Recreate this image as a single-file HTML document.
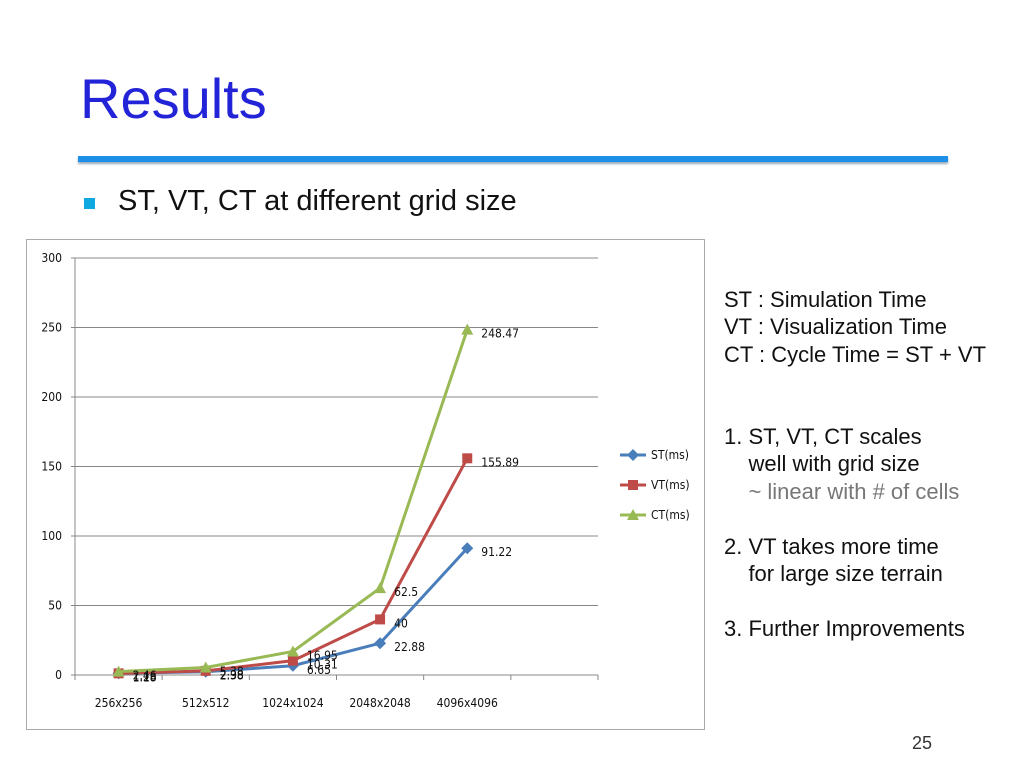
<!DOCTYPE html>
<html><head><meta charset="utf-8"><style>
body{margin:0;width:1024px;height:768px;background:#fff;font-family:"Liberation Sans",sans-serif;position:relative;overflow:hidden}
.abs{position:absolute}
</style></head><body>
<div class="abs" style="left:80px;top:66px;font-size:56px;color:#2323d8">Results</div>
<div class="abs" style="left:78px;top:156px;width:870px;height:6px;background:#1e90e8;box-shadow:0 2px 2px #9ab"></div>
<div class="abs" style="left:84px;top:198px;width:11px;height:11px;background:#10a8e0"></div>
<div class="abs" style="left:118px;top:185px;font-size:29px;color:#111">ST, VT, CT at different grid size</div>
<div class="abs" style="left:724px;top:286px;font-size:22px;line-height:27.4px;color:#111">
ST : Simulation Time<br>VT : Visualization Time<br>CT : Cycle Time = ST + VT<br><br><br>
1. ST, VT, CT scales<br>&nbsp;&nbsp;&nbsp;&nbsp;well with grid size<br><span style="color:#777">&nbsp;&nbsp;&nbsp;&nbsp;~ linear with # of cells</span><br><br>
2. VT takes more time<br>&nbsp;&nbsp;&nbsp;&nbsp;for large size terrain<br><br>3. Further Improvements</div>
<div class="abs" style="left:912px;top:733px;font-size:18px;color:#333">25</div>
<svg class="abs" style="left:0;top:0" width="1024" height="768">
<rect x="26.5" y="239.5" width="678" height="490" fill="#fff" stroke="#aaa"/>
<g id="g"></g>
</svg>
<script>
const categories=["256x256","512x512","1024x1024","2048x2048","4096x4096"];
const stValues=[1.28,2.38,6.65,22.88,91.22];
const vtValues=[1.18,2.98,10.31,40,155.89];
const ctValues=[2.46,5.38,16.95,62.5,248.47];
const yTicks=[0,50,100,150,200,250,300];
const g=document.getElementById('g');const NS='http://www.w3.org/2000/svg';
const X0=75,X1=598,Y0=675,Y1=258,slots=6;
const FF='DejaVu Sans Condensed, Liberation Sans, sans-serif';
const sx=i=>X0+(X1-X0)/slots*(i+0.5);
const sy=v=>Y0-(v/300)*(Y0-Y1);
function mk(t,a){const e=document.createElementNS(NS,t);for(const k in a)e.setAttribute(k,a[k]);g.appendChild(e);return e;}
yTicks.forEach(t=>{
const l=mk('line',{x1:X0-4,x2:X1,y1:sy(t),y2:sy(t),stroke:'#888','stroke-width':1});


const tx=mk('text',{x:62,y:sy(t)+4,'font-size':12,'text-anchor':'end',fill:'#111','font-family':FF});tx.textContent=t;


});
const ax=mk('line',{x1:X0,x2:X0,y1:Y1,y2:Y0+4,stroke:'#888'});


for(let i=0;i<=slots;i++){const t=mk('line',{x1:X0+(X1-X0)/slots*i,x2:X0+(X1-X0)/slots*i,y1:Y0,y2:Y0+5,stroke:'#888'});

}
categories.forEach((c,i)=>{const t=mk('text',{x:sx(i),y:707,'font-size':12,'text-anchor':'middle',fill:'#111','font-family':FF});t.textContent=c;

});
const series=[['ST',stValues,'#4a7ebb','d'],['VT',vtValues,'#be4b48','s'],['CT',ctValues,'#98b954','t']];
function marker(x,y,col,k,name){let e;
if(k==='d')e=mk('polygon',{points:`${x},${y-6} ${x+6},${y} ${x},${y+6} ${x-6},${y}`,fill:col});
else if(k==='s')e=mk('rect',{x:x-5,y:y-5,width:10,height:10,fill:col});
else e=mk('polygon',{points:`${x},${y-6} ${x+6},${y+5} ${x-6},${y+5}`,fill:col});

}
series.forEach(([n,vals,col,k])=>{
const p=mk('polyline',{points:vals.map((v,i)=>sx(i)+','+sy(v)).join(' '),fill:'none',stroke:col,'stroke-width':3});


vals.forEach((v,i)=>{marker(sx(i),sy(v),col,k,n.toLowerCase()+'-point');
const t=mk('text',{x:sx(i)+14,y:sy(v)+8,'font-size':12,fill:'#111','font-family':FF});t.textContent=v;

});
});
series.forEach(([n,vals,col,k],j)=>{const y=455+j*30;
const l=mk('line',{x1:620,x2:646,y1:y,y2:y,stroke:col,'stroke-width':3});


marker(633,y,col,k,'legend-marker-'+n.toLowerCase());
const t=mk('text',{x:651,y:y+4,'font-size':12,fill:'#111','font-family':FF});t.textContent=n+'(ms)';

});
</script>
</body></html>
